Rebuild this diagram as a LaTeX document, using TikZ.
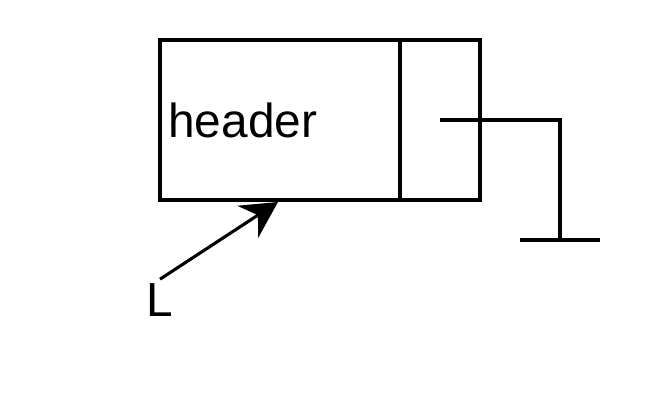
\documentclass[tikz,border=0pt]{standalone}
\usepackage{fontspec}
\setmainfont{Liberation Sans}
\usetikzlibrary{arrows.meta}
\tikzset{
  wire/.style={line width=2.2pt},
  cell/.style={draw, line width=2.2pt, minimum height=4cm, inner sep=0pt, outer sep=0pt},
  big/.style={font=\fontsize{34}{40}\selectfont}
}

\begin{document}
\begin{tikzpicture}
\useasboundingbox (0, 0) rectangle (16.2, 10.1);
\node[cell, minimum width=6cm] (hdr) at (7, 7.1) {};
\node[cell, minimum width=2cm, anchor=west] (ptr) at (hdr.east) {};
\node[big, anchor=west, inner sep=0pt] (hdrtext) at (4.2, 7.1) {header};

\coordinate (p0) at (11, 7.1);
\coordinate (p1) at (14, 7.1);
\coordinate (p2) at (14, 4.1);
\coordinate (gl) at (13, 4.1);
\coordinate (gr) at (15, 4.1);
\draw[wire] (p0)--(p1)--(p2);
\draw[wire] (gl)--(gr);

\node[big] (L) at (4, 2.6) {L};
\coordinate (tail) at (4, 3.12);
\coordinate (tip) at (6.95, 5.05);
\draw[wire, -{Stealth[length=0.9cm, width=0.95cm, inset=0.3cm]}] (tail)--(tip);
\end{tikzpicture}
\end{document}
